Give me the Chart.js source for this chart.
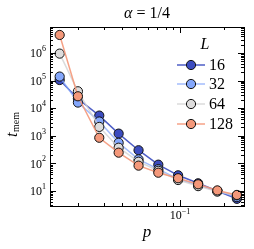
<!DOCTYPE html>
<html>
<head>
<meta charset="utf-8">
<script src="https://cdn.jsdelivr.net/npm/chart.js@4.4.0/dist/chart.umd.min.js"></script>
<style>
html, body { margin: 0; padding: 0; background: #fff; }
</style>
</head>
<body>
<canvas id="memChart" width="254" height="249"></canvas>
<script>
// valeurs
const pValues = [0.015, 0.02, 0.028, 0.038, 0.052, 0.071, 0.097, 0.133, 0.18, 0.245];
const sizes = ["16", "32", "64", "128"];
const tMem16 = [1.05e5, 2.2e4, 5.4e3, 1.2e3, 300, 90, 37, 19, 10, 5.2];
const tMem32 = [1.4e5, 1.6e4, 3.3e3, 560, 140, 62, 27, 16, 10, 6.0];
const tMem64 = [9.5e5, 4.1e4, 2.1e3, 370, 115, 54, 25, 15, 9.5, 7.0];
const tMem128 = [4.5e6, 2.7e4, 850, 245, 83, 46, 29, 17.5, 10.5, 7.2];
const yTickLabels = ["1", "2", "3", "4", "5", "6"];
const xTickLabels = ["\u22121"];

const colors = ["#3b4cc0", "#84a7fc", "#dddcdc", "#f4987a"];
const lineColors = ["rgba(59,76,192,0.9)", "rgba(132,167,252,0.75)", "rgba(210,210,210,0.8)", "rgba(244,152,122,0.9)"];
const allSeries = [tMem16, tMem32, tMem64, tMem128];

const serif = "'Liberation Serif', 'DejaVu Serif', serif";

function makeDataset(k) {
    return {
        label: sizes[k],
        data: pValues.map((p, i) => ({ x: p, y: allSeries[k][i] })),
        borderColor: lineColors[k],
        borderWidth: 1.5,
        pointRadius: 4.6,
        pointBackgroundColor: colors[k],
        pointBorderColor: "#111",
        pointBorderWidth: 1,
        order: 4 - k,
    };
}

// axes, graduations, titres et légende dessinés à la main (style matplotlib)
const frame = {
    id: "frame",
    afterDraw(chart) {
        const ctx = chart.ctx;
        const a = chart.chartArea;
        const xs = chart.scales.x, ys = chart.scales.y;
        ctx.save();
        ctx.strokeStyle = "#000";
        ctx.lineWidth = 1;
        ctx.strokeRect(a.left + 0.5, a.top + 0.5, a.right - a.left, a.bottom - a.top);

        // graduations y
        for (let d = 0; d <= 7; d++) {
            for (let m = 1; m <= 9; m++) {
                const v = m * Math.pow(10, d);
                if (v < ys.min || v > ys.max) continue;
                const py = Math.round(ys.getPixelForValue(v)) + 0.5;
                const len = m === 1 ? 6 : 3;
                ctx.beginPath();
                ctx.moveTo(a.left, py); ctx.lineTo(a.left + len, py);
                ctx.moveTo(a.right, py); ctx.lineTo(a.right - len, py);
                ctx.stroke();
            }
        }
        // graduations x
        for (let d = -2; d <= 0; d++) {
            for (let m = 1; m <= 9; m++) {
                const v = m * Math.pow(10, d);
                if (v < xs.min || v > xs.max) continue;
                const px = Math.round(xs.getPixelForValue(v)) + 0.5;
                const len = m === 1 ? 6 : 3;
                ctx.beginPath();
                ctx.moveTo(px, a.bottom); ctx.lineTo(px, a.bottom - len);
                ctx.moveTo(px, a.top); ctx.lineTo(px, a.top + len);
                ctx.stroke();
            }
        }

        // étiquettes y
        ctx.fillStyle = "#000";
        ctx.textBaseline = "middle";
        yTickLabels.forEach(e => {
            const py = ys.getPixelForValue(Math.pow(10, +e));
            ctx.font = "8px " + serif;
            ctx.textAlign = "right";
            const ew = ctx.measureText(e).width;
            ctx.fillText(e, a.left - 4, py - 4);
            ctx.font = "12px " + serif;
            ctx.fillText("10", a.left - 4 - ew, py + 1);
        });
        // étiquette x
        xTickLabels.forEach(e => {
            const px = xs.getPixelForValue(Math.pow(10, -1));
            ctx.font = "12px " + serif;
            const bw = ctx.measureText("10").width;
            ctx.font = "8px " + serif;
            const ew = ctx.measureText(e).width;
            const x0 = px - (bw + ew) / 2;
            ctx.textAlign = "left";
            ctx.fillText(e, x0 + bw, 212);
            ctx.font = "12px " + serif;
            ctx.fillText("10", x0, 216);
        });

        // titres
        ctx.textAlign = "center";
        ctx.font = "italic 17px " + serif;
        ctx.fillText("p", (a.left + a.right) / 2, 233);

        // titre : alpha en italique
        const cx = (a.left + a.right) / 2;
        ctx.font = "italic 16px " + serif;
        const wa = ctx.measureText("\u03b1").width;
        ctx.font = "16px " + serif;
        const wr = ctx.measureText(" = 1/4").width;
        ctx.textAlign = "left";
        ctx.font = "italic 16px " + serif;
        ctx.fillText("\u03b1", cx - (wa + wr) / 2, 14);
        ctx.font = "16px " + serif;
        ctx.fillText(" = 1/4", cx - (wa + wr) / 2 + wa, 14);

        ctx.save();
        ctx.translate(13, 122);
        ctx.rotate(-Math.PI / 2);
        ctx.textAlign = "left";
        ctx.font = "italic 16px " + serif;
        ctx.fillText("t", -15, 0);
        ctx.font = "10px " + serif;
        ctx.fillText("mem", -10, 3);
        ctx.restore();

        // légende
        ctx.textAlign = "center";
        ctx.font = "italic 16px " + serif;
        ctx.fillText("L", 205, 45);
        const legY = [65, 84, 104, 124];
        sizes.forEach((s, k) => {
            const y = legY[k];
            ctx.strokeStyle = lineColors[k];
            ctx.lineWidth = 1.5;
            ctx.beginPath();
            ctx.moveTo(177, y); ctx.lineTo(205, y);
            ctx.stroke();
            ctx.beginPath();
            ctx.arc(191, y, 4.6, 0, Math.PI * 2);
            ctx.fillStyle = colors[k];
            ctx.fill();
            ctx.strokeStyle = "#111";
            ctx.lineWidth = 1;
            ctx.stroke();
            ctx.fillStyle = "#000";
            ctx.textAlign = "left";
            ctx.font = "16px " + serif;
            ctx.fillText(s, 209, y + 1);
        });
        ctx.restore();
    },
};

let memCan = document.getElementById("memChart").getContext("2d");
var memChart = new Chart(memCan, {
    type: "line",
    data: {
        datasets: [0, 1, 2, 3].map(makeDataset),
    },
    options: {
        responsive: false,
        animation: false,
        devicePixelRatio: 1,
        layout: {
            padding: { left: 50, right: 10, top: 27, bottom: 43 },
        },
        scales: {
            x: {
                type: "logarithmic",
                min: 0.01288,
                max: 0.274,
                display: false,
            },
            y: {
                type: "logarithmic",
                min: 2.86,
                max: 8.75e6,
                display: false,
            },
        },
        plugins: {
            legend: { display: false },
            tooltip: { enabled: false },
        },
    },
    plugins: [frame],
});
</script>
</body>
</html>
